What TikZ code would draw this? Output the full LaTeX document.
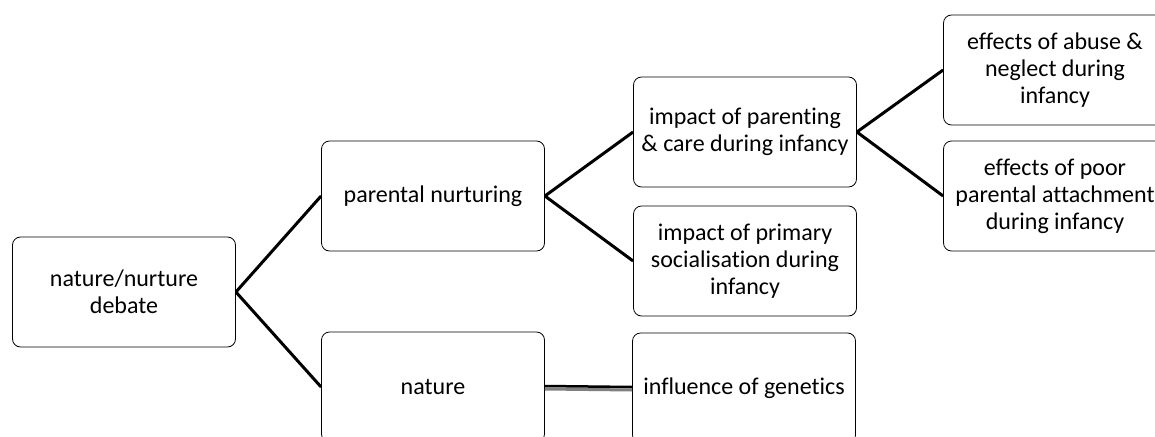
\documentclass[tikz,border=0pt]{standalone}
\usepackage{fontspec}
\setmainfont{Carlito}[Ligatures=NoCommon]
\usetikzlibrary{positioning}
\begin{document}
\begin{tikzpicture}[x=1pt, y=-1pt,
    box/.style={draw, line width=0.8pt, rounded corners=8pt, minimum width=223pt, minimum height=110pt, align=center, font=\fontsize{24}{27}\selectfont},
    link/.style={line width=3pt},
    shadowlink/.style={line width=3pt, gray}]
      \useasboundingbox (0,0) rectangle (1155,436);
      \clip (0,0) rectangle (1155,436);
      \node[box] (debate) at (124,292) {nature/nurture\\debate};
      \node[box] (nurturing) at (433,196) {parental nurturing};
      \node[box] (nature) at (433,387) {nature};
      \node[box] (parenting) at (745,132) {impact of parenting\\\& care during infancy};
      \node[box] (socialisation) at (745,261) {impact of primary\\socialisation during\\infancy};
      \node[box] (genetics) at (744,388) {influence of genetics};
      \node[box] (abuse) at (1055,70) {effects of abuse \&\\neglect during\\infancy};
      \node[box] (attachment) at (1055,196) {effects of poor\\parental attachment\\during infancy};
      \draw[link] (debate.east) -- (nurturing.west);
      \draw[link] (debate.east) -- (nature.west);
      \draw[link] (nurturing.east) -- (parenting.west);
      \draw[link] (nurturing.east) -- (socialisation.west);
      \draw[link] (parenting.east) -- (abuse.west);
      \draw[link] (parenting.east) -- (attachment.west);
      \draw[shadowlink] ([yshift=-2pt]nature.east) -- ([yshift=-2pt]genetics.west);
      \draw[line width=2.5pt] ([yshift=1pt]nature.east) -- ([yshift=1pt]genetics.west);
    \end{tikzpicture}
\end{document}
